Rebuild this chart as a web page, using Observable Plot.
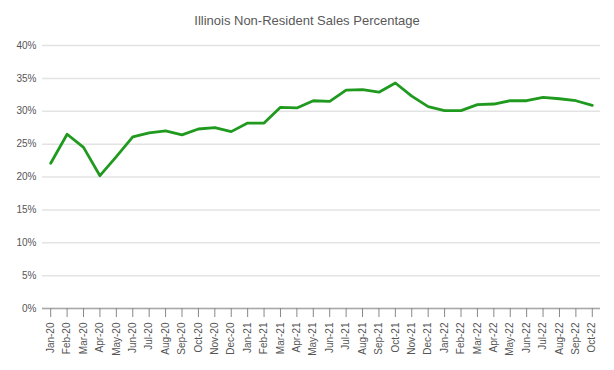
<!DOCTYPE html>
<html>
<head>
<meta charset="utf-8">
<script src="https://cdn.jsdelivr.net/npm/d3@7"></script>
<script src="https://cdn.jsdelivr.net/npm/@observablehq/plot@0.6"></script>
<style>
  body { margin: 0; background: #fff; }
  #title { height: 32px; width: 614px; text-align: center; font-family: "Liberation Sans", Arial, sans-serif; font-size: 13px; color: #595959; line-height: 16px; padding-top: 0; box-sizing: border-box; position: relative; }
  #title span { position: absolute; left: 0; right: 0; top: 13px; }
</style>
</head>
<body>
<div id="title"><span>Illinois Non-Resident Sales Percentage</span></div>
<div id="chart"></div>
<script>
const months = ["Jan-20","Feb-20","Mar-20","Apr-20","May-20","Jun-20","Jul-20","Aug-20","Sep-20","Oct-20","Nov-20","Dec-20",
  "Jan-21","Feb-21","Mar-21","Apr-21","May-21","Jun-21","Jul-21","Aug-21","Sep-21","Oct-21","Nov-21","Dec-21",
  "Jan-22","Feb-22","Mar-22","Apr-22","May-22","Jun-22","Jul-22","Aug-22","Sep-22","Oct-22"];
const values = [22.1, 26.5, 24.5, 20.2, 23.1, 26.1, 26.7, 27.0, 26.4, 27.3, 27.5, 26.9,
  28.2, 28.2, 30.6, 30.5, 31.6, 31.5, 33.2, 33.3, 32.9, 34.3, 32.3, 30.7,
  30.1, 30.1, 31.0, 31.1, 31.6, 31.6, 32.1, 31.9, 31.6, 30.9];
const yTicks = [0, 5, 10, 15, 20, 25, 30, 35, 40];

const data = months.map((m, i) => ({month: m, value: values[i]}));

const chart = Plot.plot({
  width: 614,
  height: 338,
  marginTop: 13,
  marginBottom: 62,
  marginLeft: 42,
  marginRight: 14,
  style: {fontFamily: "'Liberation Sans', Arial, sans-serif", fontSize: "10px", color: "#555", background: "#fff"},
  x: {type: "point", domain: months, padding: 0.5, round: false, label: null},
  y: {domain: [0, 40], label: null},
  marks: [
    Plot.gridY(yTicks, {stroke: "#e3e3e3", strokeOpacity: 1, strokeWidth: 1.5}),
    Plot.ruleY([0], {stroke: "#a8a8a8", strokeWidth: 1.5}),
    Plot.axisY(yTicks, {tickSize: 0, tickPadding: 6, tickFormat: d => d + "%", fill: "#555"}),
    Plot.axisX({tickSize: 9, tickPadding: 5, tickRotate: -90, stroke: "#888", fill: "#555"}),
    Plot.line(data, {x: "month", y: "value", stroke: "#1f9a1f", strokeWidth: 2.8})
  ]
});
document.getElementById("chart").appendChild(chart);
</script>
</body>
</html>
